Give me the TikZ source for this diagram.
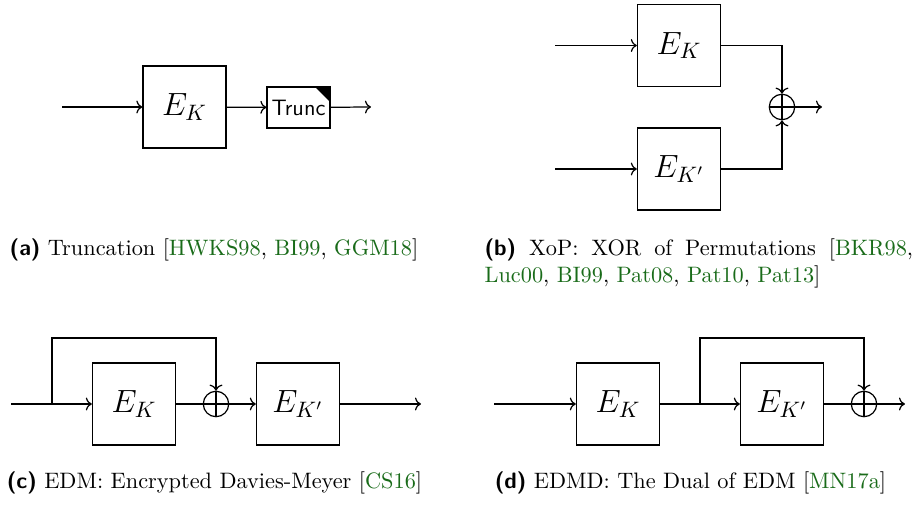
\documentclass[tikz,border=0pt]{standalone}
\usetikzlibrary{arrows,arrows.meta,positioning,shapes}
\usepackage{xcolor}

\definecolor{citegreen}{rgb}{0.1,0.42,0.1}
\newcommand{\citeref}[1]{\textcolor{citegreen}{#1}}
\newcommand{\sublabel}[1]{\textsf{\textbf{(#1)}}}

\begin{document}
\begin{tikzpicture}[x=0.448pt, y=-0.448pt,
    line width=0.55pt,
    >={Computer Modern Rightarrow[length=2.7pt, width=5.8pt]},
    block/.style={
        rectangle,
        draw,
        inner sep=0pt,
        minimum width=37.2pt,
        minimum height=36.8pt,
        font=\Large
    },
    truncbox/.style={
        rectangle,
        draw,
        inner sep=0pt,
        minimum width=28.2pt,
        minimum height=18.4pt,
        font=\sffamily,
        path picture={
            \fill (path picture bounding box.north east) -- ++(-6.7pt,0) -- ++(6.7pt,-6.7pt) -- cycle;
        }
    },
    xorgate/.style={
        circle,
        draw,
        inner sep=0pt,
        minimum size=11.4pt,
        path picture={
            \draw (path picture bounding box.north) -- (path picture bounding box.south)
                  (path picture bounding box.west) -- (path picture bounding box.east);
        }
    },
    subcaption/.style={
        inner sep=0pt,
        anchor=base
    }]
    \useasboundingbox (0,0) rectangle (918,505);

    % (a) truncation
    \coordinate (trunc_in) at (62,107);
    \coordinate (trunc_out) at (371,107);
    \node (trunc_E) [block] at (184.5,107) {$E_K$};
    \node (trunc_T) [truncbox] at (298.5,107.5) {Trunc};
    \draw[->] (trunc_in) to (trunc_E);
    \draw[->] (trunc_E) to (trunc_T);
    \draw[->] (trunc_T) to (trunc_out);

    % (b) xor of permutations
    \coordinate (xop_in_top) at (555,45.5);
    \coordinate (xop_in_bot) at (555,169);
    \coordinate (xop_out) at (822,107);
    \node (xop_E) [block] at (679,45.5) {$E_K$};
    \node (xop_Ep) [block] at (679,169) {$E_{K'}$};
    \node (xop_xor) [xorgate] at (782,107) {};
    \draw[->] (xop_in_top) to (xop_E);
    \draw[->] (xop_in_bot) to (xop_Ep);
    \draw[->] (xop_E.east) -| (xop_xor.north);
    \draw[->] (xop_Ep.east) -| (xop_xor.south);
    \draw[->] (xop_xor) to (xop_out);

    % (c) encrypted davies-meyer
    \coordinate (edm_in) at (11,404);
    \coordinate (edm_split) at (52,404);
    \coordinate (edm_out) at (421,404);
    \node (edm_E) [block] at (134,404) {$E_K$};
    \node (edm_xor) [xorgate] at (216,404) {};
    \node (edm_Ep) [block] at (298,404) {$E_{K'}$};
    \draw[->] (edm_in) to (edm_E);
    \draw (edm_E) to (edm_xor);
    \draw[->] (edm_xor) to (edm_Ep);
    \draw[->] (edm_Ep) to (edm_out);
    \draw[->] (edm_split) -- ++(0,-66) -| (edm_xor.north);

    % (d) dual of edm
    \coordinate (edmd_in) at (494,404);
    \coordinate (edmd_split) at (700,404);
    \coordinate (edmd_out) at (905,404);
    \node (edmd_E) [block] at (618,404) {$E_K$};
    \node (edmd_Ep) [block] at (782,404) {$E_{K'}$};
    \node (edmd_xor) [xorgate] at (864,404) {};
    \draw[->] (edmd_in) to (edmd_E);
    \draw[->] (edmd_E) to (edmd_Ep);
    \draw (edmd_Ep) to (edmd_xor);
    \draw[->] (edmd_xor) to (edmd_out);
    \draw[->] (edmd_split) -- ++(0,-66) -| (edmd_xor.north);

    % captions
    \node (cap_trunc) [subcaption] at (214,256)
    {
        \sublabel{a} Truncation [\citeref{HWKS98}, \citeref{BI99}, \citeref{GGM18}]
    };
    \node (cap_xop) [subcaption, anchor=base west, text width=192pt, align=justify] at (484,256)
    {
        \sublabel{b} XoP: XOR of Permutations [\citeref{BKR98}, \citeref{Luc00}, \citeref{BI99}, \citeref{Pat08}, \citeref{Pat10}, \citeref{Pat13}]
    };
    \node (cap_edm) [subcaption] at (214.5,489)
    {
        \sublabel{c} EDM: Encrypted Davies-Meyer [\citeref{CS16}]
    };
    \node (cap_edmd) [subcaption] at (690.5,489)
    {
        \sublabel{d} EDMD: The Dual of EDM [\citeref{MN17a}]
    };
\end{tikzpicture}
\end{document}
